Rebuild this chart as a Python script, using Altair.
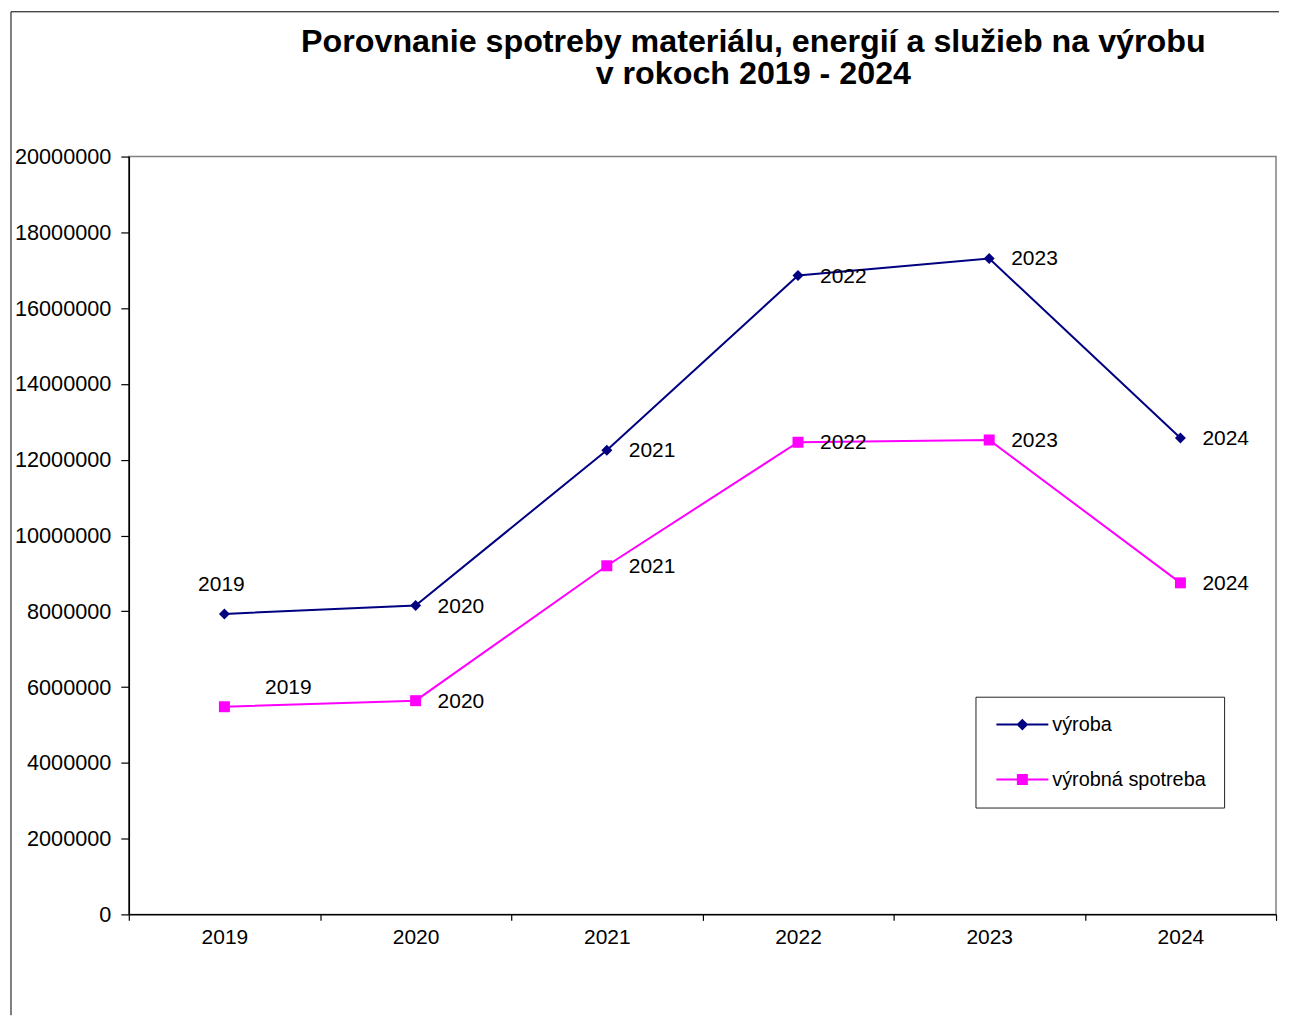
import altair as alt
import pandas as pd

years = ["2019", "2020", "2021", "2022", "2023", "2024"]
vyroba = [7930000, 8150000, 12250000, 16860000, 17310000, 12570000]
spotreba = [5480000, 5640000, 9200000, 12460000, 12520000, 8750000]
series_names = ["výroba", "výrobná spotreba"]
series_colors = ["#000080", "#FF00FF"]
y_ticks = list(range(0, 20000001, 2000000))

rows = []
for name, vals in zip(series_names, [vyroba, spotreba]):
    for yr, v in zip(years, vals):
        rows.append({"rok": yr, "rad": name, "hodnota": v})
df = pd.DataFrame(rows)

FONT = "Liberation Sans"

x_enc = alt.X("rok:N", sort=years, scale=alt.Scale(paddingInner=0, paddingOuter=0),
              axis=alt.Axis(title=None, labelAngle=0, tickBand="extent", tickSize=6,
                            labelPadding=6, labelFontSize=21, labelFont=FONT,
                            labelColor="black", domainColor="black", tickColor="black",
                            domainWidth=1.5, tickWidth=1.2))
y_enc = alt.Y("hodnota:Q", scale=alt.Scale(domain=[0, 20000000], nice=False),
              axis=alt.Axis(title=None, values=y_ticks, format="d", grid=False,
                            tickSize=8, labelPadding=10, labelFontSize=21.7, labelFont=FONT,
                            labelColor="black", domainColor="black", tickColor="black",
                            domainWidth=1.5, tickWidth=1.2))

base = alt.Chart(df).encode(x=x_enc, y=y_enc)
base_v = base.transform_filter(alt.datum.rad == series_names[0])
base_s = base.transform_filter(alt.datum.rad == series_names[1])

line_v = base_v.mark_line(strokeWidth=2, color=series_colors[0])
line_s = base_s.mark_line(strokeWidth=2, color=series_colors[1])
pts_v = base_v.mark_point(filled=True, opacity=1, size=121, shape="diamond", color=series_colors[0])
pts_s = base_s.mark_point(filled=True, opacity=1, size=121, shape="square", color=series_colors[1])

# legend symbols: line with marker (unit u = 5px with symbolSize 100)
diamond_path = "M-1.4,0L9.0,0M3.8,-0.9L4.7,0L3.8,0.9L2.9,0Z"
square_path = "M-1.4,0L9.0,0M2.9,-0.9L4.7,-0.9L4.7,0.9L2.9,0.9Z"
leg = alt.Legend(title=None, orient="none", legendX=848, legendY=541, padding=18,
                 strokeColor="#222", fillColor="white", labelFont=FONT, labelFontSize=19.9,
                 labelColor="black", symbolSize=100, symbolStrokeWidth=2, labelOffset=39,
                 rowPadding=34, symbolOpacity=1)
legend_layer = base.mark_point(filled=True, opacity=0, strokeWidth=2).encode(
    color=alt.Color("rad:N", scale=alt.Scale(domain=series_names, range=series_colors), legend=leg),
    stroke=alt.Stroke("rad:N", scale=alt.Scale(domain=series_names, range=series_colors), legend=leg),
    shape=alt.Shape("rad:N", scale=alt.Scale(domain=series_names, range=[diamond_path, square_path]),
                    legend=leg),
)

text_main = base.transform_filter(alt.datum.rok != "2019").mark_text(
    align="left", baseline="middle", dx=22, dy=1, fontSize=21, font=FONT, color="black"
).encode(text="rok:N")
text_v19 = base_v.transform_filter(alt.datum.rok == "2019").mark_text(
    align="center", baseline="middle", dx=-3, dy=-29, fontSize=21, font=FONT, color="black"
).encode(text="rok:N")
text_s19 = base_s.transform_filter(alt.datum.rok == "2019").mark_text(
    align="center", baseline="middle", dx=64, dy=-19, fontSize=21, font=FONT, color="black"
).encode(text="rok:N")

frame_data = alt.Data(values=[{}])
frame_top = alt.Chart(frame_data).mark_rule(color="black", strokeWidth=1).encode(
    x=alt.value(-118), x2=alt.value(1152), y=alt.value(-145))
frame_left = alt.Chart(frame_data).mark_rule(color="black", strokeWidth=1).encode(
    x=alt.value(-118), y=alt.value(-145), y2=alt.value(860))

chart = alt.layer(
    frame_top, frame_left, line_v, line_s, pts_v, pts_s, legend_layer,
    text_main, text_v19, text_s19
).properties(
    width=1149, height=759,
    padding={"left": 2, "top": 2, "right": 5, "bottom": 5},
    title=alt.TitleParams(
        ["Porovnanie spotreby materiálu, energií a služieb na výrobu", "v rokoch 2019 - 2024"],
        font=FONT, fontSize=32.3, fontWeight="bold", color="black", anchor="middle",
        dx=51, offset=-79, lineHeight=32),
).configure_view(stroke="#808080", strokeWidth=1.5)

chart.save("out.html", embed_options={"renderer": "svg", "actions": False})
